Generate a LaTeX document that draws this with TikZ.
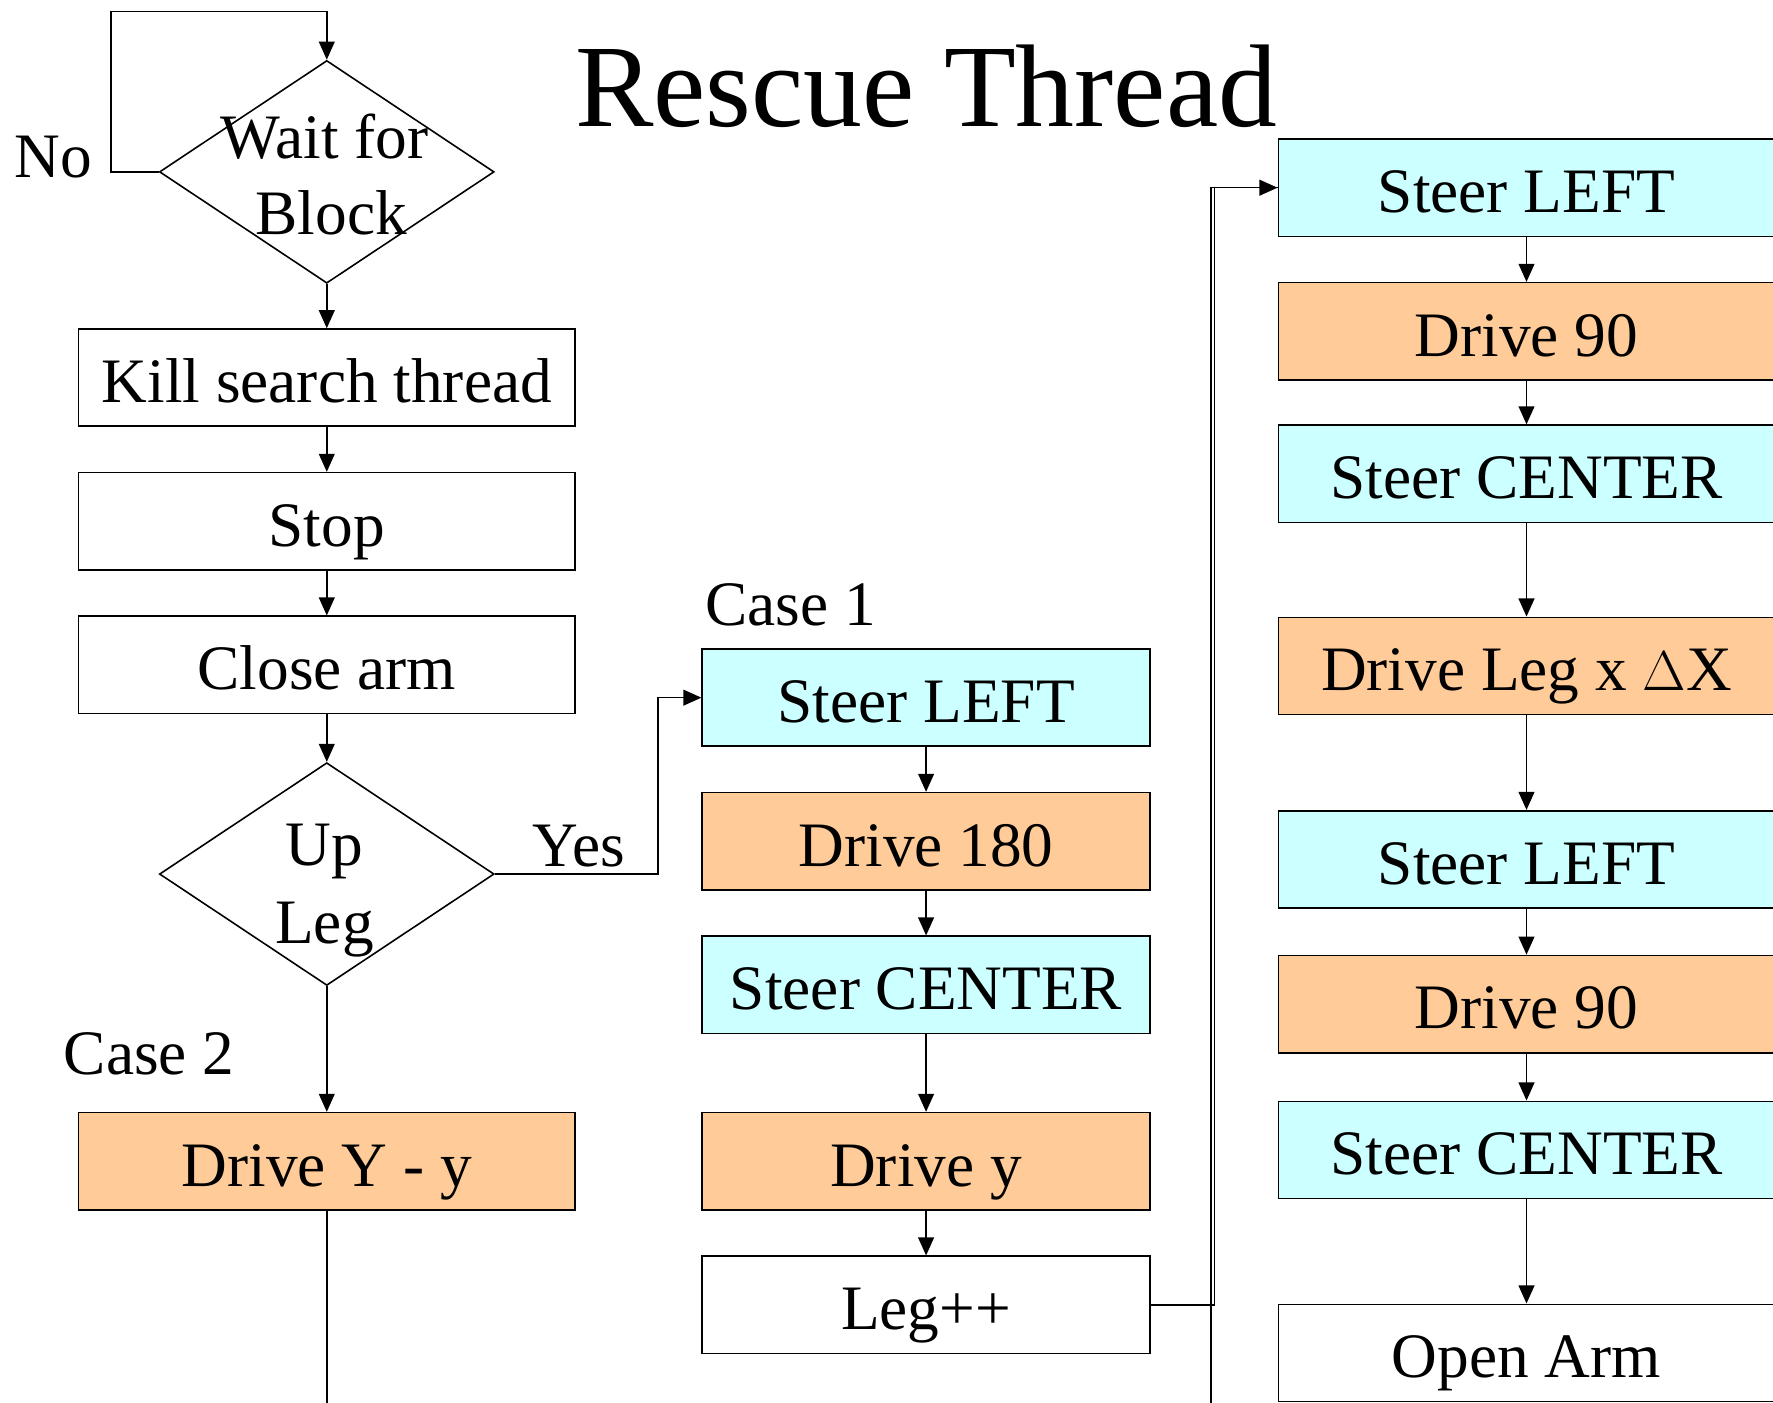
\documentclass[tikz,border=0pt]{standalone}
\usepackage{fontspec}
\setmainfont{Liberation Serif}
\usetikzlibrary{shapes.geometric,arrows.meta}
\definecolor{steercyan}{HTML}{CCFFFF}
\definecolor{driveorange}{HTML}{FFCC99}

\begin{document}
\begin{tikzpicture}[x=0.5pt,y=-0.5pt,
  every node/.style={font=\fontsize{28}{34}\selectfont},
  box/.style={draw, line width=0.7pt, rectangle, inner sep=0pt,
    minimum width=219.5pt, minimum height=43pt,
    text height=22pt, text depth=0pt},
  casebox/.style={box, minimum width=198pt},
  steer/.style={fill=steercyan},
  drive/.style={fill=driveorange},
  decision/.style={draw, line width=0.7pt, diamond, inner sep=0pt,
    minimum width=148pt, minimum height=98.5pt},
  lbl/.style={anchor=base, inner sep=0pt},
  link/.style={line width=0.7pt},
  arr/.style={link, -{Triangle[length=8pt,width=7pt]}}]

\useasboundingbox (0,0) rectangle (1568,1240);
\clip (0,0) rectangle (1568,1240);

% title
\node[lbl, font=\fontsize{52}{60}\selectfont] (title) at (819,111.5) {Rescue Thread};

% main sequence
\node[decision] (wait) at (289,152) {};
\node[lbl] (waitA) at (287,140) {Wait for};
\node[lbl] (waitB) at (293,207) {Block};
\node[box] (kill)  at (289,334) {Kill search thread};
\node[box] (stop)  at (289,461) {Stop};
\node[box] (close) at (289,588) {Close arm};
\node[decision] (upleg) at (289,773) {};
\node[lbl] (uplegA) at (287,765) {Up};
\node[lbl] (uplegB) at (287,834) {Leg};
\node[box, drive] (dYy) at (289,1027) {Drive Y - y};

\node[lbl] (no)    at (47,157)  {No};
\node[lbl] (yes)   at (512,766) {Yes};
\node[lbl] (case1) at (699,553) {Case 1};
\node[lbl] (case2) at (132,950) {Case 2};

% case 1 column
\node[casebox, steer] (s1)   at (819,617)  {Steer LEFT};
\node[casebox, drive] (d180) at (819,744)  {Drive 180};
\node[casebox, steer] (sc1)  at (819,871)  {Steer CENTER};
\node[casebox, drive] (dy)   at (819,1027) {Drive y};
\node[casebox]        (leg)  at (819,1154) {Leg++};

% leg column
\node[box, steer] (r1) at (1350,166)  {Steer LEFT};
\node[box, drive] (r2) at (1350,293)  {Drive 90};
\node[box, steer] (r3) at (1350,419)  {Steer CENTER};
\node[box, drive] (r4) at (1350,589)  {Drive Leg x $\Delta$X};
\node[box, steer] (r5) at (1350,760)  {Steer LEFT};
\node[box, drive] (r6) at (1350,888)  {Drive 90};
\node[box, steer] (r7) at (1350,1017) {Steer CENTER};
\node[box]        (r8) at (1350,1196.5) {Open Arm};

% turning points
\coordinate (noturn)  at (98,10);
\coordinate (yesturn) at (582,617);
\coordinate (loopA)   at (1074,166);
\coordinate (loopB)   at (1071,1260);
\coordinate (downL)   at (289,1260);

% connectors
\draw[arr] (wait.west) -| (noturn) -| (wait.north);
\draw[arr] (wait.south) -- (kill.north);
\draw[arr] (kill.south) -- (stop.north);
\draw[arr] (stop.south) -- (close.north);
\draw[arr] (close.south) -- (upleg.north);
\draw[arr] (upleg.south) -- (dYy.north);
\draw[link] (dYy.south) -- (downL);
\draw[arr] (upleg.east) -| (yesturn) -- (s1.west);

\draw[arr] (s1.south) -- (d180.north);
\draw[arr] (d180.south) -- (sc1.north);
\draw[arr] (sc1.south) -- (dy.north);
\draw[arr] (dy.south) -- (leg.north);
\draw[arr] (leg.east) -| (loopA) -- (r1.west);
\draw[link] (loopB) |- (r1.west);

\draw[arr] (r1.south) -- (r2.north);
\draw[arr] (r2.south) -- (r3.north);
\draw[arr] (r3.south) -- (r4.north);
\draw[arr] (r4.south) -- (r5.north);
\draw[arr] (r5.south) -- (r6.north);
\draw[arr] (r6.south) -- (r7.north);
\draw[arr] (r7.south) -- (r8.north);
\end{tikzpicture}
\end{document}
